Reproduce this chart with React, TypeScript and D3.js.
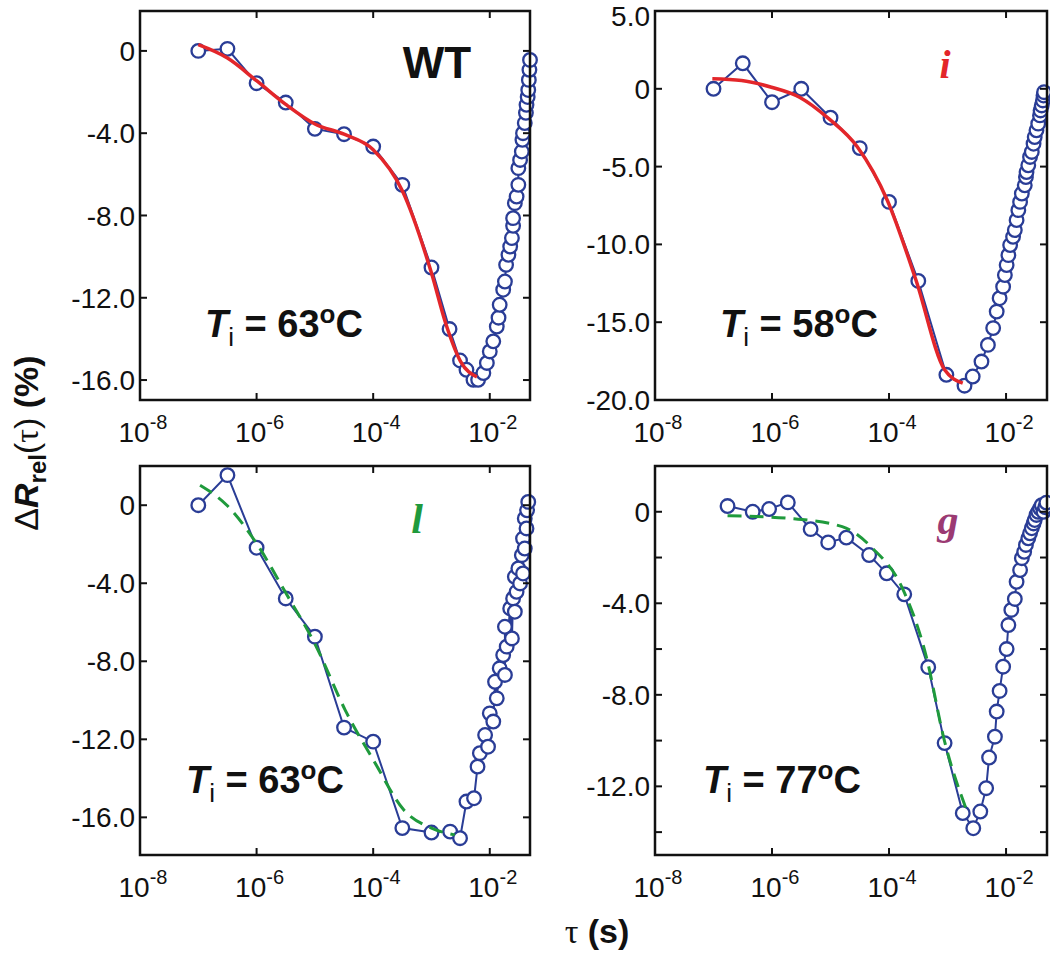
import React from 'react';
import * as d3 from 'd3';

// ---- data (log10 of tau in seconds, ΔR_rel in %) ----
const wtLogTau = [-7.0, -6.5, -6.0, -5.5, -5.0, -4.5, -4.0, -3.5, -3.0, -2.69, -2.51, -2.40, -2.28, -2.20, -2.11, -2.05, -2.00, -1.94, -1.88, -1.85, -1.83, -1.77, -1.74, -1.72, -1.68, -1.65, -1.62, -1.60, -1.60, -1.57, -1.54, -1.51, -1.51, -1.48, -1.45, -1.44, -1.43, -1.40, -1.38, -1.37, -1.35, -1.34, -1.33, -1.32, -1.31];
const wtR = [0, 0.1, -1.57, -2.51, -3.79, -4.05, -4.65, -6.51, -10.53, -13.52, -15.05, -15.5, -15.99, -15.99, -15.66, -15.17, -14.61, -14.12, -13.40, -12.97, -12.34, -11.61, -11.21, -10.40, -9.91, -9.51, -9.10, -8.50, -8.13, -7.40, -7.08, -6.51, -5.70, -5.30, -4.89, -4.32, -4.00, -3.51, -3.01, -2.62, -2.24, -1.90, -1.41, -0.92, -0.44];
const wtFitLogTau = [-7.0, -6.5, -6.0, -5.5, -5.0, -4.5, -4.0, -3.5, -3.0, -2.75, -2.5, -2.22];
const wtFitR = [0.3, -0.35, -1.45, -2.6, -3.55, -4.05, -4.8, -6.8, -10.8, -13.3, -15.1, -15.85];

const iLogTau = [-7.0, -6.5, -6.0, -5.5, -5.0, -4.5, -4.0, -3.5, -3.02, -2.71, -2.57, -2.42, -2.31, -2.22, -2.16, -2.11, -2.05, -2.02, -1.99, -1.96, -1.93, -1.88, -1.85, -1.82, -1.79, -1.76, -1.73, -1.68, -1.66, -1.65, -1.62, -1.59, -1.56, -1.53, -1.51, -1.48, -1.45, -1.42, -1.41, -1.39, -1.37, -1.36, -1.35];
const iR = [0, 1.64, -0.86, 0, -1.86, -3.81, -7.27, -12.35, -18.38, -19.08, -18.49, -17.53, -16.46, -15.38, -14.32, -13.46, -12.72, -11.97, -11.33, -10.69, -10.04, -9.51, -9.08, -8.44, -7.80, -7.27, -6.73, -6.20, -5.67, -5.35, -4.92, -4.38, -4.06, -3.53, -3.10, -2.67, -2.24, -1.71, -1.39, -1.07, -0.75, -0.43, -0.22];
const iFitLogTau = [-7.02, -6.52, -6.01, -5.53, -5.03, -4.54, -4.03, -3.54, -3.05, -2.74];
const iFitR = [0.64, 0.53, 0.10, -0.54, -1.92, -3.74, -7.16, -12.29, -18.06, -18.91];

const lLogTau = [-7.0, -6.5, -6.0, -5.5, -5.0, -4.5, -4.0, -3.5, -3.0, -2.68, -2.51, -2.40, -2.27, -2.21, -2.17, -2.08, -2.03, -2.00, -1.94, -1.91, -1.88, -1.83, -1.77, -1.74, -1.74, -1.71, -1.65, -1.62, -1.60, -1.57, -1.57, -1.54, -1.51, -1.48, -1.45, -1.43, -1.43, -1.40, -1.40, -1.37, -1.36, -1.34];
const lR = [0, 1.54, -2.18, -4.78, -6.74, -11.40, -12.12, -16.55, -16.78, -16.73, -17.07, -15.19, -15.02, -13.40, -12.71, -11.78, -12.38, -10.67, -11.09, -9.05, -9.90, -8.36, -7.68, -8.70, -6.23, -7.25, -5.29, -6.83, -4.78, -5.46, -3.67, -4.44, -3.24, -4.01, -2.56, -3.50, -1.71, -2.22, -0.68, -1.19, -0.26, 0.17];
const lFitLogTau = [-6.97, -6.51, -6.0, -5.51, -4.99, -4.48, -3.97, -3.48, -3.0, -2.60];
const lFitR = [1.02, 0, -1.96, -4.44, -7.17, -10.5, -13.2, -15.6, -16.55, -16.9];

const gLogTau = [-6.76, -6.33, -6.05, -5.73, -5.34, -5.04, -4.73, -4.34, -4.04, -3.74, -3.33, -3.05, -2.74, -2.56, -2.44, -2.34, -2.29, -2.19, -2.16, -2.11, -2.05, -1.99, -1.96, -1.91, -1.85, -1.82, -1.76, -1.73, -1.69, -1.66, -1.62, -1.59, -1.56, -1.53, -1.51, -1.48, -1.45, -1.42, -1.39, -1.36, -1.33, -1.31];
const gR = [0.25, 0, 0.12, 0.41, -0.76, -1.34, -1.13, -1.89, -2.69, -3.61, -6.79, -10.11, -13.17, -13.83, -13.10, -12.08, -10.74, -9.83, -8.73, -7.83, -6.77, -6.00, -4.95, -4.29, -3.81, -3.06, -2.55, -2.03, -1.75, -1.45, -1.16, -0.94, -0.72, -0.51, -0.36, -0.14, 0, 0.15, 0.29, 0, 0.2, 0.4];
const gFitLogTau = [-6.76, -5.71, -4.80, -4.28, -3.77, -3.37, -3.05, -2.68];
const gFitR = [-0.17, -0.29, -0.65, -1.6, -3.35, -6.26, -10.04, -13.0];

const xTickExponents = [-8, -6, -4, -2];
const yTicksWT = [0, -4, -8, -12, -16];
const yTicksI = [5, 0, -5, -10, -15, -20];
const yTicksL = [0, -4, -8, -12, -16];
const yTicksG = [0, -2, -4, -6, -8, -10, -12, -14];
const yLabelsG = [0, -4, -8, -12];

const BLUE = '#2a3d96';
const RED = '#e3262a';
const GREEN = '#1f9a3c';
const PURPLE = '#9b3a73';
const SANS = '"Liberation Sans", Arial, sans-serif';
const SERIF = '"Liberation Serif", "Times New Roman", serif';

type PanelDef = {
  left: number; top: number; width: number; height: number; xMax: number;
  yDomain: [number, number]; yTicks: number[]; yLabels: number[];
  logTau: number[]; r: number[]; fitLogTau: number[]; fitR: number[];
  fitColor: string; fitDash?: string; fitWidth: number;
  temp: string; tempX: number; tempY: number;
  tag: string; tagX: number; tagY: number; tagColor: string; tagFont: string; tagSize: number; tagItalic: boolean;
};

const panels: PanelDef[] = [
  { left: 140, top: 11, width: 390, height: 389, xMax: Math.pow(10, -1.31), yDomain: [-16.97, 1.94], yTicks: yTicksWT, yLabels: yTicksWT,
    logTau: wtLogTau, r: wtR, fitLogTau: wtFitLogTau, fitR: wtFitR, fitColor: RED, fitWidth: 3.5,
    temp: '63', tempX: 205, tempY: 337, tag: 'WT', tagX: 437, tagY: 78, tagColor: '#111', tagFont: SANS, tagSize: 44, tagItalic: false },
  { left: 655, top: 11, width: 392, height: 389, xMax: Math.pow(10, -1.30), yDomain: [-20, 5], yTicks: yTicksI, yLabels: yTicksI,
    logTau: iLogTau, r: iR, fitLogTau: iFitLogTau, fitR: iFitR, fitColor: RED, fitWidth: 3.5,
    temp: '58', tempX: 720, tempY: 337, tag: 'i', tagX: 945, tagY: 78, tagColor: RED, tagFont: SERIF, tagSize: 40, tagItalic: true },
  { left: 140, top: 466, width: 390, height: 389, xMax: Math.pow(10, -1.31), yDomain: [-17.93, 2.01], yTicks: yTicksL, yLabels: yTicksL,
    logTau: lLogTau, r: lR, fitLogTau: lFitLogTau, fitR: lFitR, fitColor: GREEN, fitDash: '14,8', fitWidth: 3,
    temp: '63', tempX: 186, tempY: 793, tag: 'l', tagX: 417, tagY: 533, tagColor: GREEN, tagFont: SERIF, tagSize: 42, tagItalic: true },
  { left: 655, top: 466, width: 392, height: 389, xMax: Math.pow(10, -1.30), yDomain: [-15, 2], yTicks: yTicksG, yLabels: yLabelsG,
    logTau: gLogTau, r: gR, fitLogTau: gFitLogTau, fitR: gFitR, fitColor: GREEN, fitDash: '14,8', fitWidth: 3,
    temp: '77', tempX: 703, tempY: 793, tag: 'g', tagX: 948, tagY: 534, tagColor: PURPLE, tagFont: SERIF, tagSize: 42, tagItalic: true },
];

const fmt = (v: number) => (v === 0 ? '0' : v.toFixed(1));

function Panel({ p }: { p: PanelDef }) {
  const x = d3.scaleLog().domain([1e-8, p.xMax]).range([p.left, p.left + p.width]);
  const y = d3.scaleLinear().domain(p.yDomain).range([p.top + p.height, p.top]);
  const pts: [number, number][] = p.logTau.map((e, i) => [x(Math.pow(10, e)), y(p.r[i])]);
  const fitPts: [number, number][] = p.fitLogTau.map((e, i) => [x(Math.pow(10, e)), y(p.fitR[i])]);
  const line = d3.line();
  const fitLine = d3.line().curve(d3.curveMonotoneX);
  const bottom = p.top + p.height;
  const right = p.left + p.width;
  const TL = 7;
  return (
    <g>
      <path d={line(pts) || ''} fill="none" stroke={BLUE} strokeWidth={2} />
      {pts.map((d, i) => (
        <circle key={i} cx={d[0]} cy={d[1]} r={6.8} fill="white" stroke={BLUE} strokeWidth={2.3} />
      ))}
      <path d={fitLine(fitPts) || ''} fill="none" stroke={p.fitColor} strokeWidth={p.fitWidth} strokeDasharray={p.fitDash} />
      <rect x={p.left} y={p.top} width={p.width} height={p.height} fill="none" stroke="#111" strokeWidth={2.5} />
      {xTickExponents.map((e) => {
        const xx = x(Math.pow(10, e));
        return (
          <g key={e}>
            <line x1={xx} x2={xx} y1={bottom} y2={bottom - TL} stroke="#111" strokeWidth={2} />
            <line x1={xx} x2={xx} y1={p.top} y2={p.top + TL} stroke="#111" strokeWidth={2} />
            <text x={xx + 3} y={bottom + 42} textAnchor="middle" fontFamily={SANS} fontSize={28} fill="#111">
              10<tspan fontSize={20} dy={-13}>-{Math.abs(e)}</tspan>
            </text>
          </g>
        );
      })}
      {p.yTicks.map((v) => {
        const yy = y(v);
        return (
          <g key={v}>
            <line x1={p.left} x2={p.left + TL} y1={yy} y2={yy} stroke="#111" strokeWidth={2} />
            <line x1={right} x2={right - TL} y1={yy} y2={yy} stroke="#111" strokeWidth={2} />
          </g>
        );
      })}
      {p.yLabels.map((v) => (
        <text key={v} x={p.left - 5} y={Math.max(y(v), 16)} dy="0.36em" textAnchor="end" fontFamily={SANS} fontSize={28} fill="#111">
          {fmt(v)}
        </text>
      ))}
      <text x={p.tempX} y={p.tempY} fontFamily={SANS} fontWeight="bold" fontSize={38} fill="#111">
        <tspan fontStyle="italic">T</tspan>
        <tspan fontSize={26} fontWeight="normal" dy={9}>i</tspan>
        <tspan dy={-9}>{' = ' + p.temp}</tspan>
        <tspan fontSize={26} dy={-14}>o</tspan>
        <tspan dy={14}>C</tspan>
      </text>
      <text x={p.tagX} y={p.tagY} textAnchor="middle" fontFamily={p.tagFont} fontWeight="bold" fontStyle={p.tagItalic ? 'italic' : 'normal'} fontSize={p.tagSize} fill={p.tagColor}>
        {p.tag}
      </text>
    </g>
  );
}

export default function App() {
  return (
    <svg width={1050} height={953} style={{ position: 'absolute', left: 0, top: 0, background: 'white' }}>
      <rect x={0} y={0} width={1050} height={953} fill="white" />
      {panels.map((p, i) => (
        <Panel key={i} p={p} />
      ))}
      <text transform="translate(38,443) rotate(-90)" textAnchor="middle" fontFamily={SANS} fontSize={34} fill="#111">
        <tspan>Δ</tspan>
        <tspan fontWeight="bold" fontStyle="italic">R</tspan>
        <tspan fontWeight="bold" fontSize={24} dy={8}>rel</tspan>
        <tspan dy={-8}>(</tspan>
        <tspan fontFamily={SERIF}>τ</tspan>
        <tspan>) </tspan>
        <tspan fontWeight="bold">(%)</tspan>
      </text>
      <text x={597} y={943} textAnchor="middle" fontFamily={SANS} fontSize={34} fill="#111">
        <tspan fontFamily={SERIF}>τ</tspan>
        <tspan fontWeight="bold"> (s)</tspan>
      </text>
    </svg>
  );
}
